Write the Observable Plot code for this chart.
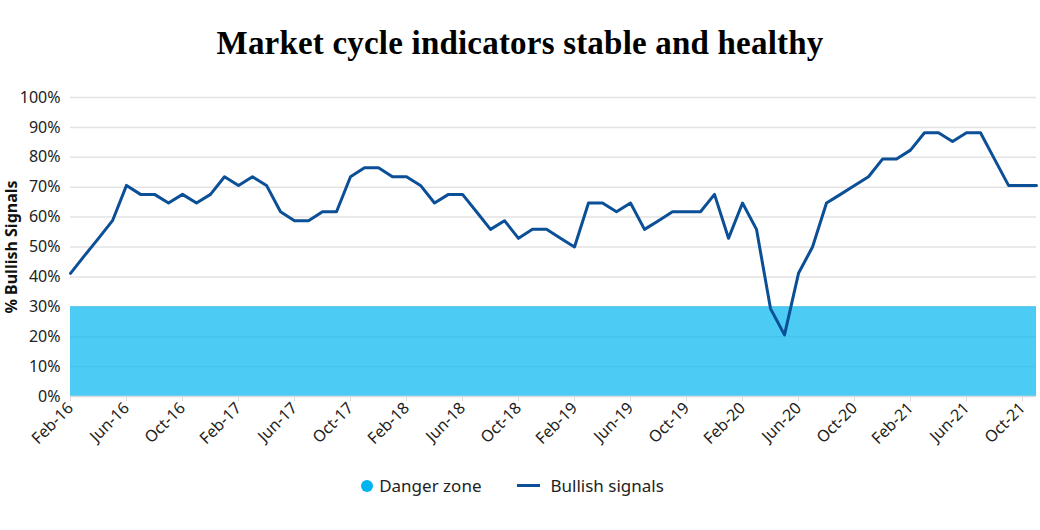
<!DOCTYPE html>
<html>
<head>
<meta charset="utf-8">
<script src="https://cdn.jsdelivr.net/npm/d3@7"></script>
<script src="https://cdn.jsdelivr.net/npm/@observablehq/plot@0.6"></script>
<style>
  body { margin: 0; background: #fff; font-family: "Noto Sans", sans-serif; }
  #wrap { width: 1040px; }
  #title { height: 80px; text-align: center; font-family: "Liberation Serif", "DejaVu Serif", serif; font-weight: bold; font-size: 33px; line-height: 87px; color: #000; letter-spacing: 0.2px; }
  #legend { display: flex; justify-content: center; align-items: center; gap: 36px; font-size: 17px; color: #222; margin-top: 19px; margin-left: -15px; }
  .item { display: flex; align-items: center; }
  .dot { width: 12px; height: 12px; border-radius: 50%; background: #00b5ef; margin-right: 6px; }
  .ln { width: 23px; height: 3px; background: #0b4f96; margin-right: 10px; }
</style>
</head>
<body>
<div id="wrap">
  <div id="title">Market cycle indicators stable and healthy</div>
  <div id="chart"></div>
  <div id="legend">
    <div class="item"><div class="dot"></div><span>Danger zone</span></div>
    <div class="item"><div class="ln"></div><span>Bullish signals</span></div>
  </div>
</div>
<script>
const months = [
  "Feb-16","Mar-16","Apr-16","May-16","Jun-16","Jul-16","Aug-16","Sep-16","Oct-16","Nov-16","Dec-16",
  "Jan-17","Feb-17","Mar-17","Apr-17","May-17","Jun-17","Jul-17","Aug-17","Sep-17","Oct-17","Nov-17","Dec-17",
  "Jan-18","Feb-18","Mar-18","Apr-18","May-18","Jun-18","Jul-18","Aug-18","Sep-18","Oct-18","Nov-18","Dec-18",
  "Jan-19","Feb-19","Mar-19","Apr-19","May-19","Jun-19","Jul-19","Aug-19","Sep-19","Oct-19","Nov-19","Dec-19",
  "Jan-20","Feb-20","Mar-20","Apr-20","May-20","Jun-20","Jul-20","Aug-20","Sep-20","Oct-20","Nov-20","Dec-20",
  "Jan-21","Feb-21","Mar-21","Apr-21","May-21","Jun-21","Jul-21","Aug-21","Sep-21","Oct-21","Nov-21"
];
const bullish = [
  41.2,47.1,52.9,58.8,70.6,67.6,67.6,64.7,67.6,64.7,67.6,
  73.5,70.6,73.5,70.6,61.8,58.8,58.8,61.8,61.8,73.5,76.5,76.5,
  73.5,73.5,70.6,64.7,67.6,67.6,61.8,55.9,58.8,52.9,55.9,55.9,
  52.9,50.0,64.7,64.7,61.8,64.7,55.9,58.8,61.8,61.8,61.8,67.6,
  52.9,64.7,55.9,29.4,20.6,41.2,50.0,64.7,67.6,70.6,73.5,79.4,
  79.4,82.4,88.2,88.2,85.3,88.2,88.2,79.4,70.6,70.6,70.6
];
const dangerLevel = 30;
const tickLabels = ["Feb-16","Jun-16","Oct-16","Feb-17","Jun-17","Oct-17","Feb-18","Jun-18","Oct-18",
  "Feb-19","Jun-19","Oct-19","Feb-20","Jun-20","Oct-20","Feb-21","Jun-21","Oct-21"];
const yTicks = [0,10,20,30,40,50,60,70,80,90,100];

const data = months.map((m, i) => ({month: m, value: bullish[i], danger: dangerLevel}));

const chart = Plot.plot({
  width: 1040,
  height: 375,
  marginLeft: 70,
  marginRight: 4,
  marginTop: 17,
  marginBottom: 59,
  style: {fontFamily: "'Noto Sans', sans-serif", fontSize: "16px", color: "#222", background: "#fff", overflow: "visible"},
  x: {type: "point", domain: months, padding: 0},
  y: {domain: [0, 100]},
  marks: [
    Plot.ruleY(yTicks.filter(d => d > 0), {stroke: "#e3e3e3", strokeWidth: 1.5}),
    Plot.areaY(data, {x: "month", y: "danger", fill: "#00b5ef", fillOpacity: 0.7, curve: "linear"}),
    Plot.ruleY([0], {stroke: "#dcdcdc", strokeWidth: 1.5}),
    Plot.axisY({ticks: yTicks, tickSize: 0, tickPadding: 10, tickFormat: d => d + "%", label: null, fontSize: 16, fill: "#222"}),
    Plot.axisX({ticks: tickLabels, tickSize: 5, stroke: "#dcdcdc", tickPadding: 4, tickRotate: -45, label: null, fontSize: 16, fill: "#222"}),
    Plot.lineY(data, {x: "month", y: "value", stroke: "#0b4f96", strokeWidth: 3, strokeLinejoin: "round"}),
    Plot.text(["% Bullish Signals"], {frameAnchor: "left", textAnchor: "middle", rotate: -90, dx: -59, fontWeight: "bold", fontSize: 16, fill: "#111"})
  ]
});
document.getElementById("chart").appendChild(chart);
</script>
</body>
</html>
